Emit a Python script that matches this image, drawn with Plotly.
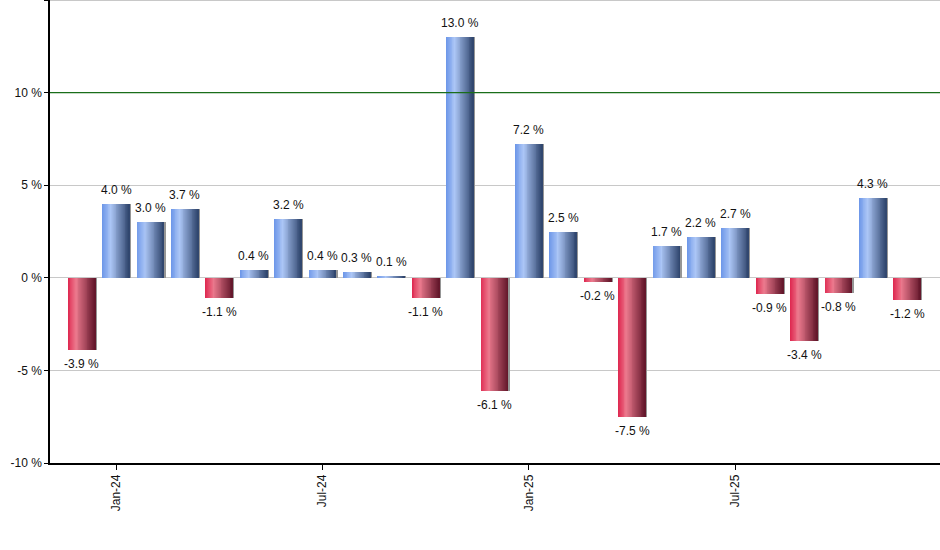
import plotly.graph_objects as go

# monthly returns, Dec-23 .. Dec-25
months = ["Dec-23", "Jan-24", "Feb-24", "Mar-24", "Apr-24", "May-24", "Jun-24",
          "Jul-24", "Aug-24", "Sep-24", "Oct-24", "Nov-24", "Dec-24",
          "Jan-25", "Feb-25", "Mar-25", "Apr-25", "May-25", "Jun-25",
          "Jul-25", "Aug-25", "Sep-25", "Oct-25", "Nov-25", "Dec-25"]
returns = [-3.9, 4.0, 3.0, 3.7, -1.1, 0.4, 3.2, 0.4, 0.3, 0.1, -1.1, 13.0, -6.1,
           7.2, 2.5, -0.2, -7.5, 1.7, 2.2, 2.7, -0.9, -3.4, -0.8, 4.3, -1.2]
tick_months = ["Jan-24", "Jul-24", "Jan-25", "Jul-25"]
y_ticks = [-10, -5, 0, 5, 10, 15]
target_line = 10

BAR_W = 0.78
N_SLICES = 30

# horizontal gradient stops: left edge, highlight, right edge
blue_stops = [(0.0, (108, 150, 232)), (0.32, (172, 198, 246)), (1.0, (46, 68, 108))]
red_stops = [(0.0, (222, 38, 78)), (0.30, (236, 122, 142)), (1.0, (98, 22, 42))]


def grad(stops, t):
    for (t0, c0), (t1, c1) in zip(stops, stops[1:]):
        if t <= t1:
            f = (t - t0) / (t1 - t0)
            return "rgb({},{},{})".format(*[round(a + (b - a) * f) for a, b in zip(c0, c1)])
    return "rgb({},{},{})".format(*stops[-1][1])


xs = list(range(len(months)))
pos_x = [x for x, v in zip(xs, returns) if v >= 0]
pos_y = [v for v in returns if v >= 0]
neg_x = [x for x, v in zip(xs, returns) if v < 0]
neg_y = [v for v in returns if v < 0]

fig = go.Figure()

# thin grey shadow on the right side of each bar
fig.add_trace(go.Bar(x=xs, y=returns, width=BAR_W, offset=-BAR_W / 2 + 0.05,
                     marker=dict(color="rgb(150,150,150)", line=dict(width=0)),
                     hoverinfo="skip", showlegend=False))

w = BAR_W / N_SLICES
for k in range(N_SLICES):
    t = (k + 0.5) / N_SLICES
    off = -BAR_W / 2 + k * w
    wk = w * 2 if k < N_SLICES - 1 else w
    for bx, by, stops in ((pos_x, pos_y, blue_stops), (neg_x, neg_y, red_stops)):
        fig.add_trace(go.Bar(x=bx, y=by, width=wk, offset=off,
                             marker=dict(color=grad(stops, t), line=dict(width=0)),
                             hoverinfo="skip", showlegend=False))

# value labels
for x, v in zip(xs, returns):
    fig.add_annotation(x=x, y=v, text="{:.1f} %".format(v), showarrow=False,
                       yanchor="bottom" if v >= 0 else "top",
                       yshift=5 if v >= 0 else -5,
                       font=dict(size=12, color="#111"))

fig.add_hline(y=target_line, line=dict(color="#1a6e1a", width=1.3))
# grey frame line along the top of the plot
fig.add_shape(type="line", xref="paper", yref="paper", x0=0, x1=1, y0=1, y1=1,
              line=dict(color="#c8c8c8", width=2))

fig.update_layout(
    width=940, height=550,
    margin=dict(l=50, r=0, t=0, b=87),
    barmode="overlay",
    bargap=0,
    plot_bgcolor="white",
    paper_bgcolor="white",
    font=dict(family="Liberation Sans, Arial, sans-serif", size=12, color="#111"),
    xaxis=dict(range=[-0.92, 24.95],
               tickvals=[months.index(m) for m in tick_months],
               ticktext=tick_months, tickangle=-90,
               ticks="outside", ticklen=5, tickcolor="black",
               showline=True, linecolor="black", linewidth=1.5,
               showgrid=False, zeroline=False),
    yaxis=dict(range=[-10, 15], tickvals=y_ticks,
               ticktext=["{} %".format(v) if v != 15 else "" for v in y_ticks],
               ticks="outside", ticklen=4, tickcolor="black",
               showline=True, linecolor="black", linewidth=1.5,
               showgrid=True, gridcolor="#c8c8c8", gridwidth=1,
               zeroline=False),
)

fig.write_html("out.html", config={"displayModeBar": False},
               post_script="document.body.style.margin='0';")
